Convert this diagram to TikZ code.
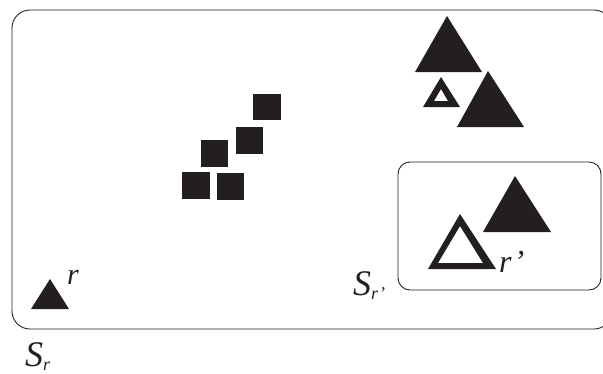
\documentclass[tikz,border=0pt]{standalone}
\usepackage{fontspec}
\setmainfont{Liberation Serif}
\definecolor{ink}{HTML}{231F20}
\newcommand{\bigS}{\fontsize{36}{36}\selectfont\itshape S}
\newcommand{\subr}[1]{\raisebox{-4pt}{\fontsize{18}{18}\selectfont\itshape r#1}}
\tikzset{
  box/.style={draw=ink, line width=0.9pt},
  solid tri/.style={fill=ink},
  open tri/.style={fill=ink, even odd rule},
  sq/.style={fill=ink},
  lbl/.style={inner sep=0pt, anchor=base west, text=ink, font=\fontsize{30}{30}\selectfont\itshape}
}
\begin{document}
\begin{tikzpicture}[x=1pt, y=-1pt]
\useasboundingbox (0,0) rectangle (603,373);
% outer set
\draw[box, rounded corners=18pt] (12,10) rectangle (612,329);
% inner set
\draw[box, rounded corners=12pt] (398,162) rectangle (601,290);
% cluster of squares
\fill[sq] (182,172) rectangle (210,199);
\fill[sq] (217,173) rectangle (244,200);
\fill[sq] (201,140) rectangle (228,167);
\fill[sq] (236,127) rectangle (263,154);
\fill[sq] (253,94) rectangle (281,120);
% small triangle r
\fill[solid tri] (50,279) -- (69,309) -- (31,309) -- cycle;
\node[lbl] (r) at (67,284) {r};
% upper right triangles
\fill[solid tri] (447,16) -- (482,72) -- (415,72) -- cycle;
\fill[solid tri] (488,71) -- (524,127) -- (457,127) -- cycle;
\fill[open tri] (441,77) -- (460,107) -- (423,107) -- cycle
                (441,89) -- (448,101) -- (434,101) -- cycle;
% triangles inside inner set
\fill[solid tri] (515,176) -- (551,232) -- (483,232) -- cycle;
\fill[open tri] (460,214) -- (496,269) -- (428,269) -- cycle
                (460,226) -- (483,263) -- (438,263) -- cycle;
\node[lbl, font=\fontsize{32}{32}\selectfont\itshape] (rp) at (499,272) {r\kern2pt’};
% set labels
\node[lbl] (Srp) at (353,295) {\bigS\subr{\kern1pt’}};
\node[lbl] (Sr) at (25,366) {\bigS\subr{}};
\end{tikzpicture}
\end{document}
